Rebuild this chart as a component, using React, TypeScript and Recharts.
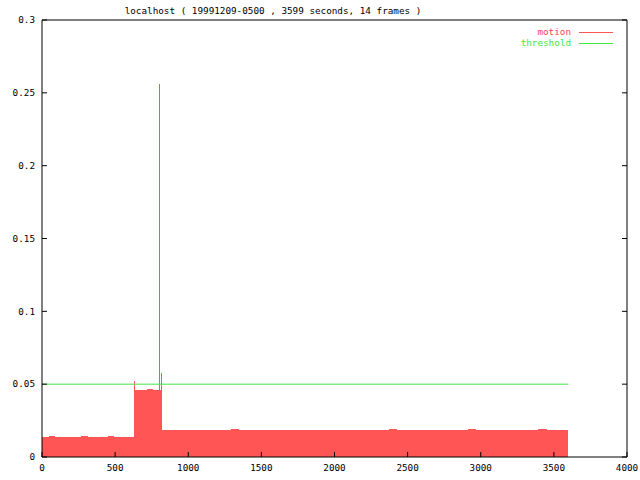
import React from 'react';
import { ComposedChart, Area, Line, XAxis, YAxis } from 'recharts';

const chartTitle = 'localhost ( 19991209-0500 , 3599 seconds, 14 frames )';
const seriesNames = ['motion', 'threshold'];
const xTicks = [0, 500, 1000, 1500, 2000, 2500, 3000, 3500, 4000];
const yTicks = [0, 0.05, 0.1, 0.15, 0.2, 0.25, 0.3];
const yTickLabels = ['0', '0.05', '0.1', '0.15', '0.2', '0.25', '0.3'];

// motion samples (seconds, value)
const motionTimes = [
  0, 45, 90, 135, 180, 225, 270, 315, 360, 405, 450, 495, 540, 585, 625,
  630, 637, 680, 720, 760, 795, 799, 808, 812, 819,
  870, 930, 990, 1050, 1110, 1170, 1230, 1290, 1350, 1410, 1470, 1530, 1590,
  1650, 1710, 1770, 1830, 1890, 1950, 2010, 2070, 2130, 2190, 2250, 2310,
  2370, 2430, 2490, 2550, 2610, 2670, 2730, 2790, 2850, 2910, 2970, 3030,
  3090, 3150, 3210, 3270, 3330, 3390, 3450, 3510, 3570, 3599,
];
const motionValues = [
  0.0139, 0.0141, 0.0138, 0.014, 0.0139, 0.0138, 0.0141, 0.0139, 0.014, 0.0138, 0.0141, 0.0139, 0.014, 0.0138, 0.0139,
  0.052, 0.0462, 0.0458, 0.0464, 0.046, 0.0461, 0.256, 0.046, 0.0577, 0.0182,
  0.0186, 0.0183, 0.0188, 0.0184, 0.0187, 0.0182, 0.0186, 0.0189, 0.0183, 0.0185, 0.0188, 0.0184, 0.0186,
  0.0183, 0.0187, 0.0185, 0.0182, 0.0186, 0.0184, 0.0188, 0.0185, 0.0183, 0.0187, 0.0186, 0.0184,
  0.0189, 0.0185, 0.0187, 0.0183, 0.0186, 0.0188, 0.0184, 0.0187, 0.0185, 0.0189, 0.0186, 0.0184,
  0.0188, 0.0185, 0.0187, 0.0183, 0.0186, 0.0189, 0.0185, 0.0187, 0.0188, 0.0186,
];
const thresholdTimes = [0, 3599];
const thresholdValues = [0.05, 0.05];

const motionData = motionTimes.map((t, i) => ({ t, motion: motionValues[i] }));
const thresholdData = thresholdTimes.map((t, i) => ({ t, threshold: thresholdValues[i] }));

const RED = '#ff5555';
const GREEN = '#44e644';
const FONT = '"DejaVu Sans Mono", monospace';
const FS = 9.3;

export default function App() {
  const tickStyle = { fontFamily: FONT, fontSize: FS, fill: '#000' };
  return (
    <div style={{ position: 'absolute', left: 0, top: 0, width: 640, height: 480, background: '#fff' }}>
      <ComposedChart width={640} height={480} margin={{ top: 0, right: 0, bottom: 0, left: 0 }}>
        <XAxis
          xAxisId="b"
          dataKey="t"
          type="number"
          orientation="bottom"
          domain={[0, 4000]}
          ticks={xTicks}
          interval={0}
          height={23}
          tickSize={-5}
          tickMargin={12}
          allowDataOverflow
          axisLine={{ stroke: '#000' }}
          tickLine={{ stroke: '#000' }}
          tick={tickStyle}
        />
        <XAxis
          xAxisId="t"
          type="number"
          orientation="top"
          domain={[0, 4000]}
          ticks={xTicks}
          interval={0}
          height={20}
          tickSize={-5}
          allowDataOverflow
          tickFormatter={() => ''}
          axisLine={{ stroke: '#000' }}
          tickLine={{ stroke: '#000' }}
        />
        <YAxis
          yAxisId="l"
          type="number"
          orientation="left"
          domain={[0, 0.3]}
          ticks={yTicks}
          interval={0}
          width={42}
          tickSize={-5}
          tickMargin={12}
          allowDataOverflow
          tickFormatter={(v: number) => yTickLabels[yTicks.indexOf(v)] ?? String(v)}
          axisLine={{ stroke: '#000' }}
          tickLine={{ stroke: '#000' }}
          tick={tickStyle}
        />
        <YAxis
          yAxisId="r"
          type="number"
          orientation="right"
          domain={[0, 0.3]}
          ticks={yTicks}
          interval={0}
          width={13}
          tickSize={-5}
          allowDataOverflow
          tickFormatter={() => ''}
          axisLine={{ stroke: '#000' }}
          tickLine={{ stroke: '#000' }}
        />
        <Area
          xAxisId="b"
          yAxisId="l"
          data={motionData}
          dataKey="motion"
          type="stepAfter"
          fill={RED}
          fillOpacity={1}
          stroke="none"
          baseValue={0}
          shapeRendering="crispEdges"
          isAnimationActive={false}
          dot={false}
          activeDot={false}
        />
        <Line
          xAxisId="b"
          yAxisId="l"
          data={thresholdData}
          dataKey="threshold"
          type="linear"
          stroke={GREEN}
          strokeWidth={1}
          dot={false}
          activeDot={false}
          isAnimationActive={false}
        />
      </ComposedChart>
      <svg
        width={640}
        height={480}
        style={{ position: 'absolute', left: 0, top: 0, pointerEvents: 'none' }}
      >
        <text x={273} y={14} textAnchor="middle" fontFamily={FONT} fontSize={FS} fill="#000">
          {chartTitle}
        </text>
        <text x={571} y={35} textAnchor="end" fontFamily={FONT} fontSize={FS} fill="#ff4060">
          {seriesNames[0]}
        </text>
        <line x1={579} x2={613} y1={32.5} y2={32.5} stroke={RED} strokeWidth={1} />
        <text x={571} y={46} textAnchor="end" fontFamily={FONT} fontSize={FS} fill={GREEN}>
          {seriesNames[1]}
        </text>
        <line x1={579} x2={613} y1={43.5} y2={43.5} stroke={GREEN} strokeWidth={1} />
      </svg>
    </div>
  );
}
